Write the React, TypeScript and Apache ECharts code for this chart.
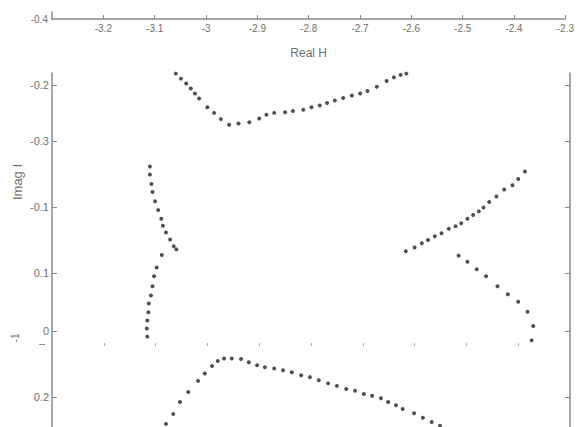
import React, { useEffect, useRef } from "react";
import * as echarts from "echarts";

// x tick range (Real H)
const xMin = -3.3;
const xMax = -2.3;
const xStep = 0.1;

// left axis: tick positions (axis units) and their printed labels
const yTickPos = [0, 0.891, 1.95, 3.009, 3.94, 4.999];
const yTickLabels = ["-0.2", "-0.3", "-0.1", "0.1", "0", "0.2"];
const yMin = -0.2;
const yMax = 5.48;

// top strip's y axis
const topYMin = -0.4;
const topYMax = -0.3;
const topYLabelPos = [-0.4];

// upper V-shaped branch
const branchAx = [-3.061, -3.051, -3.041, -3.032, -3.024, -3.016, -3.0, -2.987, -2.974, -2.958, -2.94, -2.919, -2.9, -2.886, -2.871, -2.85, -2.835, -2.815, -2.799, -2.783, -2.769, -2.754, -2.738, -2.721, -2.705, -2.691, -2.673, -2.654, -2.64, -2.627, -2.616];
const branchAy = [-0.19, -0.11, -0.03, 0.05, 0.13, 0.21, 0.35, 0.44, 0.54, 0.63, 0.61, 0.59, 0.53, 0.47, 0.44, 0.43, 0.41, 0.39, 0.35, 0.32, 0.28, 0.24, 0.2, 0.16, 0.13, 0.09, 0.02, -0.07, -0.13, -0.17, -0.19];

// left branch
const branchBx = [-3.111, -3.111, -3.108, -3.106, -3.101, -3.095, -3.089, -3.086, -3.08, -3.072, -3.065, -3.06, -3.088, -3.098, -3.103, -3.106, -3.109, -3.113, -3.114, -3.116, -3.117, -3.116];
const branchBy = [1.3, 1.43, 1.58, 1.71, 1.86, 2.0, 2.14, 2.25, 2.36, 2.47, 2.58, 2.63, 2.72, 2.92, 3.06, 3.22, 3.37, 3.5, 3.64, 3.77, 3.9, 4.03];

// right rising branch
const branchCx = [-2.617, -2.6, -2.586, -2.574, -2.561, -2.548, -2.534, -2.521, -2.51, -2.498, -2.487, -2.476, -2.467, -2.456, -2.442, -2.427, -2.411, -2.4, -2.387];
const branchCy = [2.66, 2.6, 2.53, 2.48, 2.42, 2.37, 2.3, 2.26, 2.21, 2.14, 2.08, 2.02, 1.96, 1.87, 1.78, 1.67, 1.6, 1.5, 1.38];

// right falling branch
const branchDx = [-2.515, -2.498, -2.48, -2.462, -2.44, -2.42, -2.4, -2.382, -2.371, -2.374];
const branchDy = [2.73, 2.83, 2.95, 3.06, 3.22, 3.35, 3.47, 3.63, 3.86, 4.09];

// lower branch
const branchEx = [-3.08, -3.066, -3.053, -3.037, -3.018, -3.005, -2.991, -2.98, -2.968, -2.953, -2.935, -2.92, -2.904, -2.889, -2.871, -2.854, -2.837, -2.819, -2.802, -2.785, -2.767, -2.75, -2.732, -2.715, -2.698, -2.682, -2.665, -2.651, -2.636, -2.623, -2.601, -2.584, -2.567, -2.551];
const branchEy = [5.43, 5.27, 5.08, 4.92, 4.74, 4.62, 4.5, 4.42, 4.38, 4.38, 4.39, 4.44, 4.49, 4.52, 4.54, 4.57, 4.6, 4.65, 4.68, 4.73, 4.78, 4.82, 4.87, 4.9, 4.95, 4.98, 5.02, 5.08, 5.13, 5.19, 5.26, 5.33, 5.4, 5.46];

const zip = (xs: number[], ys: number[]) => xs.map((x, i) => [x, ys[i]]);

const AXIS = "#8a8a8a";
const TEXT = "#707070";
const DOT = "#262626";
const FONT = "Liberation Sans, Arial, sans-serif";

export default function App() {
  const ref = useRef<HTMLDivElement>(null);
  useEffect(() => {
    if (!ref.current) return;
    const chart = echarts.init(ref.current, null, { renderer: "svg" });
    const fmtX = (v: number) => String(+v.toFixed(1));
    const fmtY = (v: number) => {
      let best = 0;
      yTickPos.forEach((p, i) => {
        if (Math.abs(p - v) < Math.abs(yTickPos[best] - v)) best = i;
      });
      return yTickLabels[best];
    };
    const dotSeries = (xs: number[], ys: number[]) => ({
      type: "scatter",
      xAxisIndex: 1,
      yAxisIndex: 1,
      symbol: "circle",
      symbolSize: 4,
      itemStyle: { color: DOT },
      data: zip(xs, ys),
    });
    chart.setOption({
      animation: false,
      backgroundColor: "#ffffff",
      textStyle: { fontFamily: FONT },
      grid: [
        { left: 52, right: 7, top: 12, height: 7 },
        { left: 52, right: 7, top: 73, bottom: 0 },
      ],
      xAxis: [
        {
          gridIndex: 0,
          type: "value",
          min: xMin,
          max: xMax,
          interval: xStep,
          position: "bottom",
          axisLine: { show: true, onZero: false, lineStyle: { color: AXIS, width: 1.5 } },
          axisTick: { show: true, inside: true, length: 4, lineStyle: { color: AXIS } },
          axisLabel: { show: true, showMinLabel: false, margin: 4, fontSize: 10, color: TEXT, formatter: fmtX },
          splitLine: { show: false },
          name: "Real H",
          nameLocation: "middle",
          nameGap: 28,
          nameTextStyle: { fontSize: 12, color: TEXT },
        },
        {
          gridIndex: 1,
          type: "value",
          min: xMin,
          max: xMax,
          interval: xStep,
          position: "bottom",
          offset: -84,
          axisLine: { show: false, onZero: false },
          axisTick: { show: true, inside: false, length: 3, lineStyle: { color: "#aaaaaa" } },
          axisLabel: { show: false },
          splitLine: { show: false },
        },
      ],
      yAxis: [
        {
          gridIndex: 0,
          type: "value",
          min: topYMin,
          max: topYMax,
          axisLine: { show: true, onZero: false, lineStyle: { color: AXIS, width: 1.5 } },
          axisTick: { show: false },
          axisLabel: { show: true, customValues: topYLabelPos, margin: 4, fontSize: 10, color: TEXT, formatter: fmtX },
          splitLine: { show: false },
        },
        {
          gridIndex: 1,
          type: "value",
          min: yMin,
          max: yMax,
          inverse: true,
          position: "left",
          axisLine: { show: true, onZero: false, lineStyle: { color: AXIS, width: 1.5 } },
          axisTick: { show: true, inside: true, length: 5, customValues: yTickPos, lineStyle: { color: AXIS } },
          axisLabel: { show: true, margin: 3, fontSize: 11, color: TEXT, customValues: yTickPos, formatter: fmtY },
          splitLine: { show: false },
        },
        {
          gridIndex: 1,
          type: "value",
          min: yMin,
          max: yMax,
          inverse: true,
          position: "right",
          axisLine: { show: true, onZero: false, lineStyle: { color: AXIS, width: 1.5 } },
          axisTick: { show: true, inside: true, length: 5, customValues: yTickPos, lineStyle: { color: AXIS } },
          axisLabel: { show: false, customValues: yTickPos },
          splitLine: { show: false },
        },
      ],
      graphic: [
        {
          type: "text",
          x: 17,
          y: 182,
          rotation: Math.PI / 2,
          style: { text: "Imag I", fontSize: 13, fill: TEXT, align: "center", verticalAlign: "middle", fontFamily: FONT },
        },
        {
          type: "text",
          x: 15,
          y: 338,
          rotation: Math.PI / 2,
          style: { text: "-1", fontSize: 10, fill: TEXT, align: "center", verticalAlign: "middle", fontFamily: FONT },
        },
        {
          type: "text",
          x: 42,
          y: 343,
          style: { text: "--", fontSize: 10, fill: TEXT, align: "center", verticalAlign: "middle", fontFamily: FONT },
        },
      ],
      series: [
        dotSeries(branchAx, branchAy),
        dotSeries(branchBx, branchBy),
        dotSeries(branchCx, branchCy),
        dotSeries(branchDx, branchDy),
        dotSeries(branchEx, branchEy),
      ],
    });
    return () => chart.dispose();
  }, []);
  return (
    <div
      ref={ref}
      style={{ position: "fixed", left: 0, top: 0, width: 577, height: 427, background: "#fff" }}
    />
  );
}
